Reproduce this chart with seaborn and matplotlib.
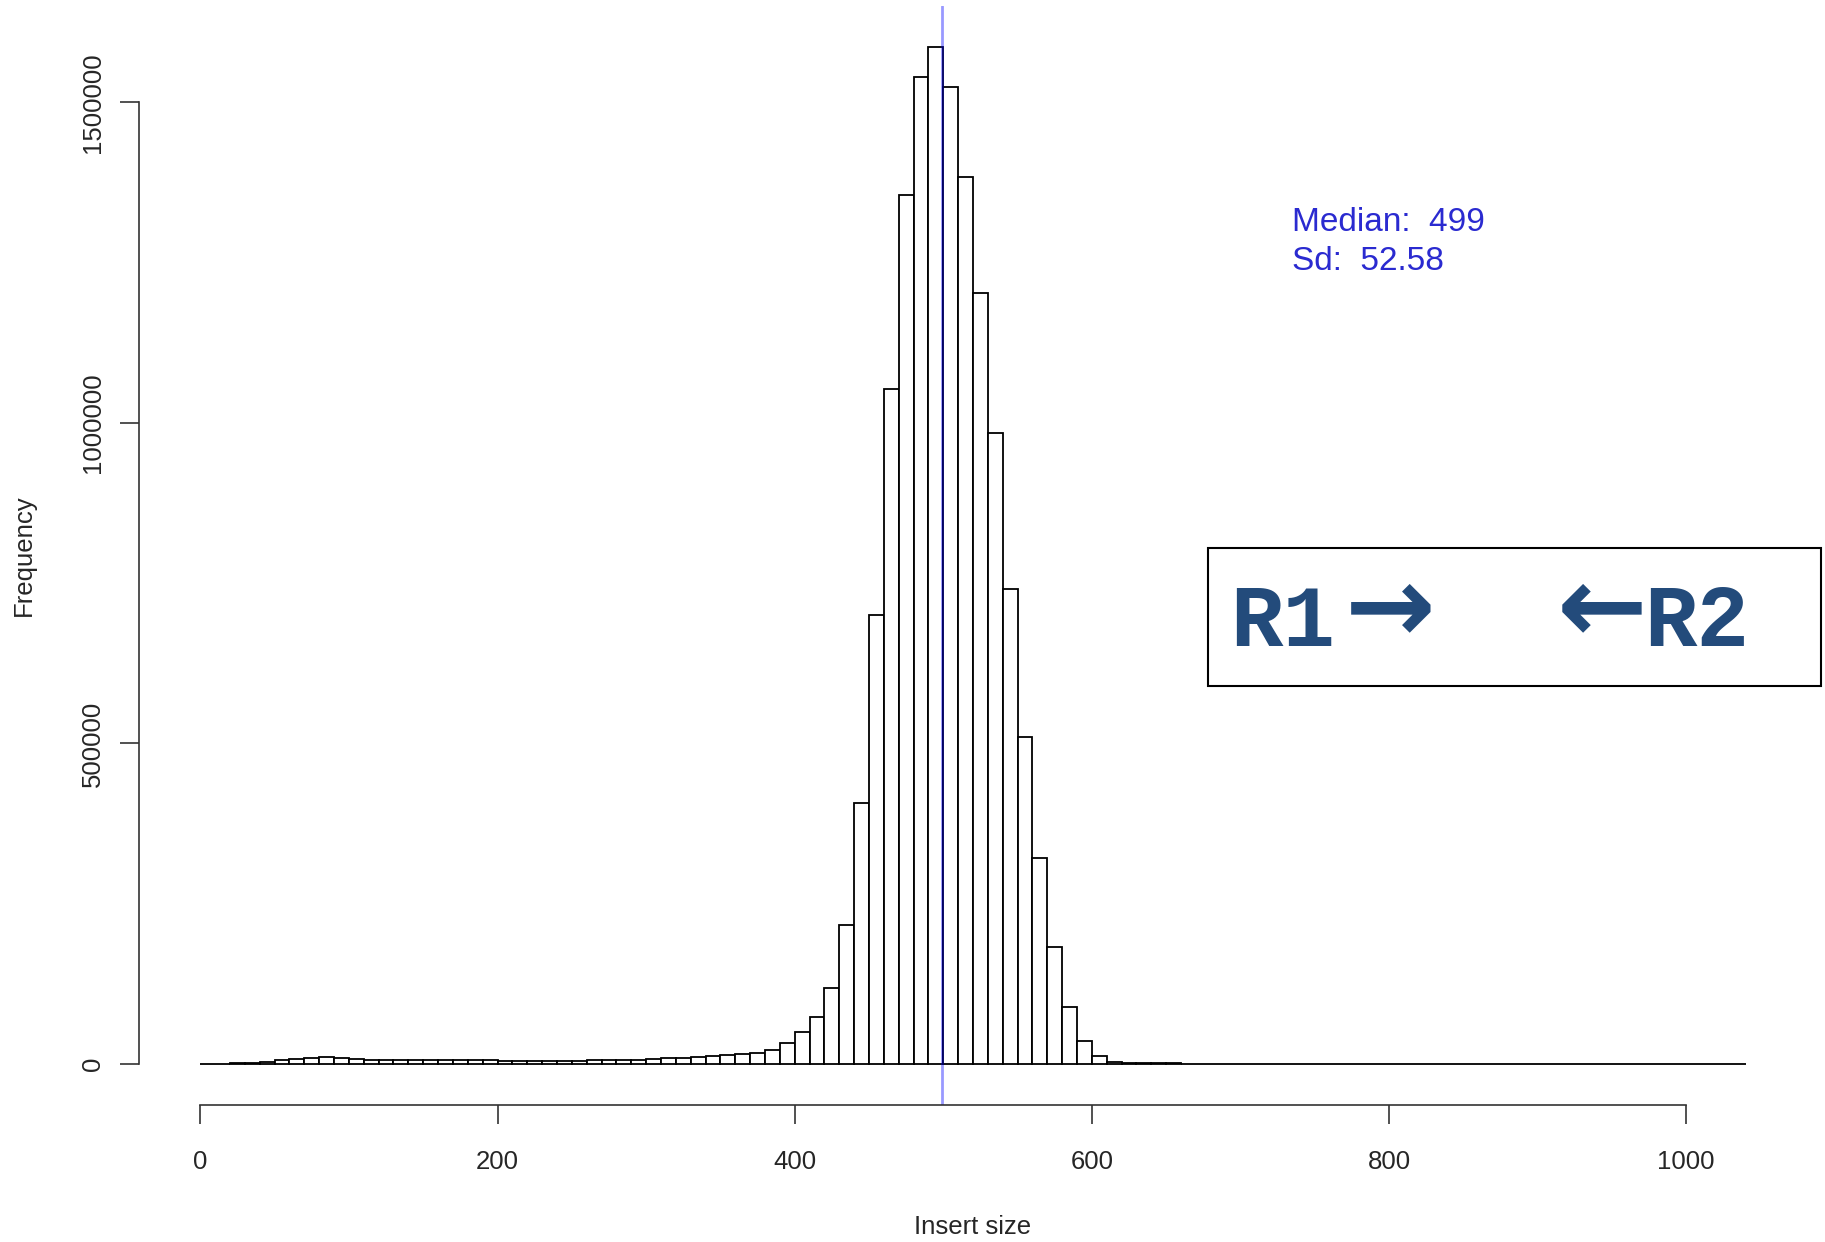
import numpy as np
import pandas as pd
import matplotlib
matplotlib.use('Agg')
import matplotlib.pyplot as plt
from matplotlib.patches import Rectangle
import seaborn as sns

# insert-size histogram, 10 bp bins from 0 to 1040
bin_width = 10
bin_starts = list(range(0, 1040, bin_width))
counts = [
    300, 400, 700, 2100, 3600, 6200, 8300, 9900, 10400, 9400,          # 0-100
    7800, 6800, 6300, 6100, 6000, 5900, 5800, 5700, 5600, 5500,         # 100-200
    5300, 5200, 5200, 5200, 5200, 5300, 5400, 5500, 5700, 6300,         # 200-300
    8000, 9000, 10000, 11500, 12500, 14000, 15500, 17500, 21800, 32200, # 300-400
    50400, 72800, 119000, 216000, 407000, 701000, 1053000, 1355000, 1540000, 1587000,  # 400-500
    1524000, 1384000, 1202000, 984000, 741000, 510000, 321000, 182000, 89000, 36000,   # 500-600
    13000, 3100, 1200, 900, 800, 700,                                   # 600-660
    650, 600, 580, 560, 540, 520, 500, 480, 470, 460,                   # 660-760
    450, 440, 430, 420, 410, 400, 390, 380, 370, 360,                   # 760-860
    350, 340, 330, 320, 310, 300, 290, 280, 270, 260,                   # 860-960
    250, 240, 230, 220, 210, 200, 190, 180,                             # 960-1040
]

median_insert = 499
sd_insert = 52.58

x_ticks = [0, 200, 400, 600, 800, 1000]
y_ticks = [0, 500000, 1000000, 1500000]
y_tick_labels = ['0', '500000', '1000000', '1500000']

sns.set_style('white')
plt.rcParams['font.family'] = ['Liberation Sans', 'DejaVu Sans']

df = pd.DataFrame({'insert': np.array(bin_starts) + bin_width / 2, 'count': counts})

fig = plt.figure(figsize=(18.25, 12.42), dpi=100)
ax = fig.add_axes([0.0759, 0.1106, 0.9145, 0.8847])

sns.histplot(data=df, x='insert', weights='count', binwidth=bin_width,
             binrange=(bin_starts[0], bin_starts[-1] + bin_width), color='white',
             edgecolor='black', linewidth=1.3, alpha=1, ax=ax)

# median line
ax.axvline(median_insert, color='blue', alpha=0.4, lw=2)

# R style axes: 4% padding, spines only over tick range
ax.set_xlim(-41.6, 1081.6)
ax.set_ylim(-63480, 1650480)
sns.despine(ax=ax)
ax.spines['left'].set_bounds(0, 1500000)
ax.spines['bottom'].set_bounds(0, 1000)
for side in ['left', 'bottom']:
    ax.spines[side].set_linewidth(1.2)
    ax.spines[side].set_color('#333333')

ax.set_xticks(x_ticks)
ax.set_xticklabels([str(t) for t in x_ticks])
ax.set_yticks(y_ticks)
ax.set_yticklabels(y_tick_labels, rotation=90, va='center')
ax.tick_params(axis='both', direction='out', length=13.4, width=1.2,
               color='#333333', labelsize=18.5, left=True, bottom=True)
ax.tick_params(axis='x', pad=19)
ax.tick_params(axis='y', pad=11)

ax.set_xlabel('Insert size', fontsize=18.5, labelpad=30)
ax.set_ylabel('Frequency', fontsize=18.5, labelpad=32)

ax.text(735, 1312000, f'Median:  {median_insert}', color='#2a2ad0',
        fontsize=24, ha='left', va='center')
ax.text(735, 1252000, f'Sd:  {sd_insert}', color='#2a2ad0',
        fontsize=24, ha='left', va='center')

# read orientation box
fig.patches.append(Rectangle((0.662, 0.448), 0.336, 0.111, transform=fig.transFigure,
                             fill=False, ec='black', lw=1.5))
read_color = '#234b7b'
mono = ['Liberation Mono', 'DejaVu Sans Mono']
fig.text(0.674, 0.480, 'R1', family=mono, weight='bold', fontsize=63,
         color=read_color, va='baseline')
fig.text(0.737, 0.508, '\u2192', family=['DejaVu Sans'], weight='bold', fontsize=78,
         color=read_color, va='center')
fig.text(0.853, 0.508, '\u2190', family=['DejaVu Sans'], weight='bold', fontsize=78,
         color=read_color, va='center')
fig.text(0.901, 0.480, 'R2', family=mono, weight='bold', fontsize=63,
         color=read_color, va='baseline')

fig.savefig('out.png', dpi=100)
